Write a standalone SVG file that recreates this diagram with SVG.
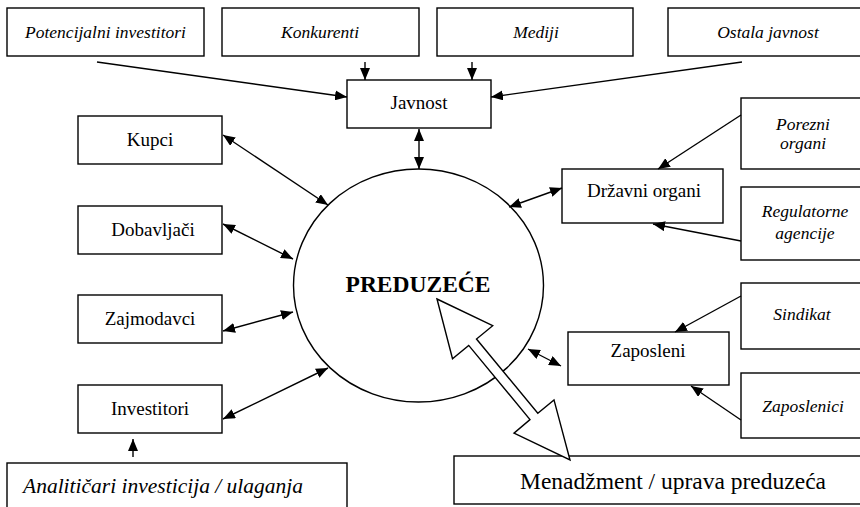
<svg xmlns="http://www.w3.org/2000/svg" width="860" height="507" viewBox="0 0 860 507">
<defs>
<style>
.box{fill:#fff;stroke:#000;stroke-width:1.4}
.t{font-family:'Liberation Serif','Times New Roman',serif;font-size:19px;fill:#000;text-anchor:middle}
.i{font-family:'Liberation Serif','Times New Roman',serif;font-size:17.5px;font-style:italic;fill:#000;text-anchor:middle}
.c{stroke:#000;stroke-width:1.4;fill:none}
.s{marker-end:url(#ah)}
.d{marker-start:url(#ah);marker-end:url(#ah)}
</style>
<marker id="ah" markerUnits="userSpaceOnUse" markerWidth="12" markerHeight="10" refX="12" refY="5" orient="auto-start-reverse">
<path d="M0,0 L12,5 L0,10 z" fill="#000"/>
</marker>
</defs>
<rect width="860" height="507" fill="#fff"/>

<g id="preduzece">
<ellipse cx="418.5" cy="285.5" rx="125" ry="116.5" fill="#fff" stroke="#000" stroke-width="1.4"/>
<text x="418" y="292" font-family="'Liberation Serif','Times New Roman',serif" font-size="23.5" font-weight="bold" text-anchor="middle">PREDUZEĆE</text>
</g>

<g id="potencijalni"><rect class="box" x="7" y="8" width="197" height="48"/><text class="i" x="105.5" y="38">Potencijalni investitori</text></g>
<g id="konkurenti"><rect class="box" x="222" y="8" width="197" height="48"/><text class="i" x="320" y="38">Konkurenti</text></g>
<g id="mediji"><rect class="box" x="437" y="8" width="196" height="48"/><text class="i" x="536" y="38">Mediji</text></g>
<g id="ostala"><rect class="box" x="668" y="8" width="200" height="48"/><text class="i" x="768" y="38">Ostala javnost</text></g>
<g id="javnost"><rect class="box" x="347" y="80" width="144" height="48"/><text class="t" x="419" y="109">Javnost</text></g>

<g id="kupci"><rect class="box" x="78" y="116" width="144" height="48"/><text class="t" x="150" y="146">Kupci</text></g>
<g id="dobavljaci"><rect class="box" x="78" y="206" width="144" height="48"/><text class="t" x="153" y="236">Dobavljači</text></g>
<g id="zajmodavci"><rect class="box" x="78" y="295" width="144" height="48"/><text class="t" x="150" y="325">Zajmodavci</text></g>
<g id="investitori"><rect class="box" x="78" y="385" width="144" height="48"/><text class="t" x="150" y="415">Investitori</text></g>
<g id="analiticari"><rect class="box" x="7" y="463" width="340" height="50"/><text x="23" y="493" font-family="'Liberation Serif','Times New Roman',serif" font-size="21.5" font-style="italic">Analitičari investicija / ulaganja</text></g>

<g id="drzavni"><rect class="box" x="562" y="169" width="161" height="54"/><text class="t" x="644" y="197">Državni organi</text></g>
<g id="porezni"><rect class="box" x="741" y="98" width="125" height="71"/><text class="i" x="803" y="130">Porezni</text><text class="i" x="803" y="149">organi</text></g>
<g id="regulatorne"><rect class="box" x="741" y="187" width="125" height="73"/><text class="i" x="805" y="217">Regulatorne</text><text class="i" x="805" y="239">agencije</text></g>
<g id="sindikat"><rect class="box" x="741" y="283" width="125" height="66"/><text class="i" x="802" y="320">Sindikat</text></g>
<g id="zaposleni"><rect class="box" x="568" y="332" width="161" height="53"/><text class="t" x="648" y="357">Zaposleni</text></g>
<g id="zaposlenici"><rect class="box" x="741" y="373" width="125" height="65"/><text class="i" x="803" y="412">Zaposlenici</text></g>

<g id="connectors">
<line class="c s" x1="97" y1="62" x2="347" y2="97"/>
<line class="c s" x1="365" y1="62" x2="365" y2="80"/>
<line class="c s" x1="472" y1="62" x2="472" y2="80"/>
<line class="c s" x1="742" y1="62" x2="491" y2="97"/>
<line class="c d" x1="419" y1="129" x2="419" y2="169"/>
<line class="c d" x1="223" y1="135" x2="328" y2="205"/>
<line class="c d" x1="223" y1="224" x2="293" y2="259"/>
<line class="c d" x1="223" y1="331" x2="293" y2="312"/>
<line class="c d" x1="223" y1="419" x2="328" y2="368"/>
<line class="c s" x1="133" y1="457" x2="133" y2="439"/>
<line class="c d" x1="509" y1="207" x2="562" y2="188"/>
<line class="c s" x1="741" y1="115" x2="658" y2="169"/>
<line class="c s" x1="741" y1="241" x2="653" y2="224"/>
<line class="c s" x1="741" y1="296" x2="675" y2="332"/>
<line class="c s" x1="741" y1="420" x2="691" y2="386"/>
<line class="c d" x1="528" y1="349" x2="561" y2="366"/>
</g>

<g id="menadzment"><rect class="box" x="454" y="456" width="412" height="48"/><text x="673" y="489" font-family="'Liberation Serif','Times New Roman',serif" font-size="23.5" text-anchor="middle">Menadžment / uprava preduzeća</text></g>

<g id="hollow-arrow">
<polygon points="437,299 492.7,325.7 476.5,339 537.8,413.2 554,399.9 570,460 514,433.2 530,419.6 468.7,345.4 452.5,358.7" fill="#fff" stroke="#000" stroke-width="1.4" stroke-linejoin="miter"/>
</g>
</svg>
